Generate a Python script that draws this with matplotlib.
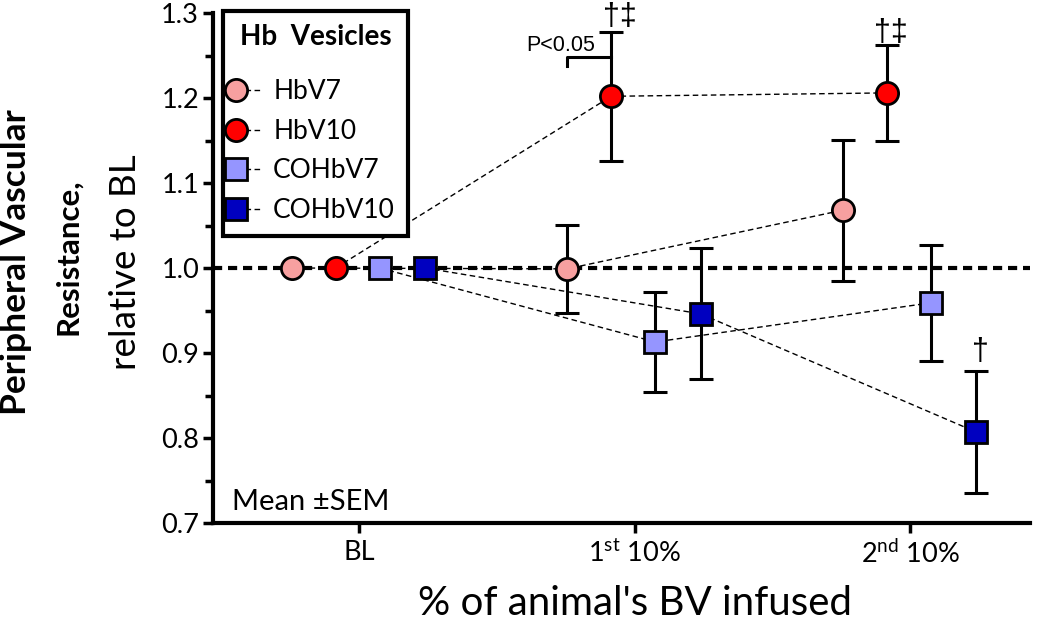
import matplotlib
matplotlib.use("Agg")
import matplotlib.pyplot as plt
from matplotlib.legend_handler import HandlerLine2D
import numpy as np

plt.rcParams['font.family'] = ['Lato', 'DejaVu Sans']
plt.rcParams['mathtext.fontset'] = 'custom'
plt.rcParams['mathtext.rm'] = 'Lato'

# data
groups = ['BL', r'1$^{\mathrm{st}}$ 10%', r'2$^{\mathrm{nd}}$ 10%']
series = ['HbV7', 'HbV10', 'COHbV7', 'COHbV10']
hbv7 = [1.0, 0.999, 1.068]
hbv7_err = [0.0, 0.052, 0.083]
hbv10 = [1.0, 1.202, 1.206]
hbv10_err = [0.0, 0.076, 0.056]
cohbv7 = [1.0, 0.913, 0.959]
cohbv7_err = [0.0, 0.059, 0.068]
cohbv10 = [1.0, 0.946, 0.807]
cohbv10_err = [0.0, 0.077, 0.072]

offsets = [-0.245, -0.085, 0.075, 0.24]
colors = ['#F7A0A0', '#FF0000', '#9595FF', '#0000C0']
markers = ['o', 'o', 's', 's']


class MarkerLeft(HandlerLine2D):
    # legend handle: marker on the left, dashed tail on the right
    def create_artists(self, *args, **kwargs):
        arts = super().create_artists(*args, **kwargs)
        arts[0].set_markevery([0])
        return arts


fig = plt.figure(figsize=(10.5, 6.21), dpi=100)
ax = fig.add_axes([213 / 1050, 1 - 523 / 621, 817 / 1050, 510 / 621])

x = np.arange(len(groups))
ax.axhline(1.0, color='black', lw=3, ls=(0, (2.2, 1.4)), zorder=1)

handles = []
for vals, errs, off, c, m, name in zip([hbv7, hbv10, cohbv7, cohbv10],
                                        [hbv7_err, hbv10_err, cohbv7_err, cohbv10_err],
                                        offsets, colors, markers, series):
    xs = x + off
    ax.errorbar(xs[1:], vals[1:], yerr=errs[1:], fmt='none', ecolor='black',
                elinewidth=2.2, capsize=8.5, capthick=2.2, zorder=2)
    h, = ax.plot(xs, vals, ls=(0, (4, 2.5)), lw=1.0, color='black',
                 marker=m, markersize=16 if m == 'o' else 16.5,
                 markerfacecolor=c, markeredgecolor='black',
                 markeredgewidth=2.0, label=name, zorder=4)
    handles.append(h)

ax.set_xlim(-0.53, 2.435)
ax.set_ylim(0.7, 1.3)
ax.set_yticks(np.arange(0.7, 1.31, 0.1))
ax.set_yticks(np.arange(0.75, 1.3, 0.1), minor=True)
ax.set_yticklabels(['%.1f' % v for v in np.arange(0.7, 1.31, 0.1)])
ax.set_xticks(x)
ax.set_xticklabels(groups)
ax.tick_params(axis='both', which='major', length=7, width=2.5, labelsize=19.5,
               direction='out', pad=3)
ax.tick_params(axis='x', which='major', pad=5)
ax.tick_params(axis='y', which='minor', length=6, width=2.5)
for s in ['top', 'right']:
    ax.spines[s].set_visible(False)
for s in ['left', 'bottom']:
    ax.spines[s].set_linewidth(3)

ax.set_xlabel("% of animal's BV infused", fontsize=29, labelpad=12)
ax.xaxis.label.set_x(0.5 + 14 / 817)

fig.text(16 / 1050, 1 - 262 / 621, 'Peripheral Vascular', rotation=90,
         fontsize=25.5, fontweight='bold', ha='center', va='center')
fig.text(68 / 1050, 1 - 257 / 621, 'Resistance,', rotation=90,
         fontsize=22.5, fontweight='bold', ha='center', va='center')
fig.text(125 / 1050, 1 - 262 / 621, 'relative to BL', rotation=90,
         fontsize=26.5, ha='center', va='center')

ax.text(0.023, 0.015, 'Mean \u00b1SEM', transform=ax.transAxes, fontsize=21,
        ha='left', va='bottom')

# significance marks
x1 = x[1] + offsets[0]
x2 = x[1] + offsets[1]
ax.plot([x1, x1, x2], [1.238, 1.248, 1.248], color='black', lw=2.2,
        clip_on=False, zorder=5)
ax.text((x1 + x2) / 2 - 0.105, 1.262, 'P<0.05', fontsize=15.5,
        family='Liberation Sans', ha='center', va='center')
ax.text(x[1] + offsets[1] + 0.03, 1.295, '\u2020\u2021', fontsize=22,
        family='Liberation Sans', ha='center', va='center', clip_on=False)
ax.text(x[2] + offsets[1] + 0.015, 1.276, '\u2020\u2021', fontsize=22,
        family='Liberation Sans', ha='center', va='center')
ax.text(x[2] + offsets[3] + 0.015, 0.901, '\u2020', fontsize=22,
        family='Liberation Sans', ha='center', va='center')

leg = ax.legend(handles=handles, loc='upper left',
                bbox_to_anchor=(10 / 817, 1 + 2 / 510), borderaxespad=0,
                title='Hb  Vesicles', title_fontproperties={'weight': 'bold', 'size': 20},
                fontsize=19, frameon=True, fancybox=False, edgecolor='black',
                framealpha=1, handlelength=1.0, handletextpad=0.4,
                labelspacing=0.55, borderpad=0.5,
                handler_map={plt.Line2D: MarkerLeft(numpoints=1)})
leg._legend_box.sep = 21
leg.get_frame().set_linewidth(3)
leg.set_zorder(6)

fig.savefig('out.png', dpi=100)
